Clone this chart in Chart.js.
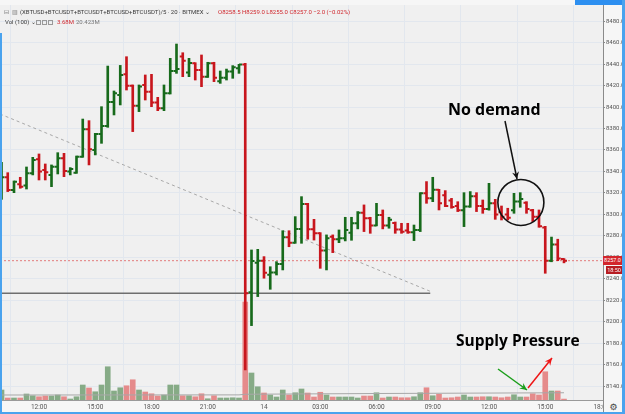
<!DOCTYPE html>
<html><head><meta charset="utf-8">
<script src="https://cdn.jsdelivr.net/npm/chart.js@4.4.1/dist/chart.umd.min.js"></script>
<style>
html,body{margin:0;padding:0;background:#f6f6f6;}
#wrap{position:relative;width:625px;height:414px;overflow:hidden;font-family:Roboto,'Liberation Sans',sans-serif;}
canvas{position:absolute;left:0;top:0;}
.t{position:absolute;white-space:nowrap;font-size:6px;line-height:8px;color:#3a3a3a;}
.r{color:#d0282e;}
.g{color:#777;}
.ann{position:absolute;white-space:nowrap;font-family:'Open Sans',sans-serif;font-weight:700;font-size:16px;line-height:18px;color:#000;}
.box{position:absolute;color:#fff;font-size:5.5px;text-align:center;overflow:hidden;}
.ic{display:inline-block;width:3px;height:3px;border:1px solid #999;margin-right:1px;vertical-align:middle;}
</style></head><body>
<div id="wrap">
<canvas id="c" width="625" height="414"></canvas>
<div class="t" style="left:4px;top:8px;color:#777">⊟</div>
<div class="t" style="left:12px;top:8px;color:#777">▥</div>
<div class="t" style="left:20px;top:8px">(XBTUSD+BTCUSDT+BTCUSDT+BTCUSD+BTCUSDT)/5 · 20 · BITMEX ⌄</div>
<div class="t r" style="left:218px;top:8px">O8258.5 H8259.0 L8255.0 C8257.0 −2.0 (−0.02%)</div>
<div class="t" style="left:5px;top:18px">Vol (100) ⌄</div>
<div class="t" style="left:36px;top:18px"><span class="ic"></span><span class="ic"></span><span class="ic"></span></div>
<div class="t r" style="left:57px;top:18px">3.68M</div>
<div class="t g" style="left:76px;top:18px">20.423M</div>
<div class="ann" style="left:448px;top:100px">No demand</div>
<div class="ann" style="left:456px;top:331px;font-size:15.5px">Supply Pressure</div>
<div class="box" style="left:603px;top:256px;width:19px;height:9px;line-height:9px;background:#d3262c">8257.0</div>
<div class="box" style="left:606px;top:266px;width:16px;height:8px;line-height:8px;background:#b71c22">18:50</div>
<div style="position:absolute;left:603px;top:401px;width:19px;height:13px;background:#f6f6f6;border-left:1px solid #8a8a8a;font-family:'DejaVu Sans';font-size:9px;line-height:13px;text-align:center;color:#444">⚙</div>
<div style="position:absolute;left:0;top:33px;width:2px;height:381px;background:#4aa3ee"></div>
<div style="position:absolute;left:622px;top:0;width:3px;height:414px;background:#4aa3ee"></div>
<div style="position:absolute;left:0;top:412px;width:625px;height:2px;background:#4aa3ee"></div>
<div style="position:absolute;left:575px;top:0;width:47px;height:5px;background:#2d8ff0"></div>
</div>
<script>
// ---- data ----
const tickIndex  = [6, 15, 24, 33, 42, 51, 60, 69, 78, 87, 96];
const tickLabels = ['12:00','15:00','18:00','21:00','14','03:00','06:00','09:00','12:00','15:00','18:00'];
const yTicks = [8140,8160,8180,8200,8220,8240,8260,8280,8300,8320,8340,8360,8380,8400,8420,8440,8460,8480];

const opens  = [8316.6,8334.6,8322.8,8328.1,8326.9,8338.3,8351.3,8341.4,8336.8,8344.5,
                8352.3,8339.9,8338.9,8353.8,8379.2,8360.0,8374.9,8382.3,8404.6,8411.2,
                8430.4,8419.8,8401.2,8420.5,8414.3,8404.3,8398.8,8412.7,8433.5,8447.0,
                8432.0,8440.6,8434.4,8428.2,8440.6,8424.0,8427.3,8433.0,8436.0,8439.5,
                8227.6,8255.0,8257.0,8244.0,8246.0,8254.0,8278.8,8273.8,8286.5,8309.8,
                8286.2,8282.5,8266.4,8279.4,8276.9,8278.0,8283.0,8291.8,8301.7,8296.5,
                8289.7,8299.6,8289.7,8292.0,8286.0,8285.0,8283.5,8285.5,8319.7,8315.0,
                8323.0,8318.0,8313.0,8308.0,8304.0,8307.5,8317.0,8308.0,8305.0,8310.5,
                8302.0,8300.0,8304.0,8312.0,8311.0,8304.0,8298.0,8288.0,8257.0,8272.0,
                8258.5];
const highs  = [8348.5,8338.9,8331.2,8334.6,8344.2,8353.2,8356.3,8347.0,8346.1,8357.5,
                8356.9,8343.6,8354.4,8388.8,8387.3,8375.5,8400.3,8438.1,8414.9,8438.7,
                8446.8,8420.5,8420.5,8429.8,8430.4,8409.0,8420.5,8445.3,8458.6,8450.5,
                8445.3,8441.2,8448.4,8441.6,8441.6,8433.5,8435.3,8438.5,8439.7,8440.6,
                8267.0,8267.6,8260.8,8251.4,8256.1,8284.9,8284.9,8298.0,8316.6,8310.4,
                8295.5,8283.1,8281.0,8281.0,8285.6,8297.4,8297.4,8302.7,8308.9,8297.4,
                8310.4,8304.2,8297.4,8293.0,8291.8,8291.8,8290.2,8320.3,8330.6,8334.6,
                8323.4,8322.2,8315.0,8311.9,8320.3,8321.3,8320.3,8313.5,8329.0,8314.1,
                8307.9,8305.8,8319.7,8320.3,8311.9,8304.8,8304.2,8289.0,8279.0,8277.0,
                8259.0];
const lows   = [8314.1,8321.3,8320.3,8324.4,8323.7,8336.8,8332.1,8332.1,8325.9,8337.7,
                8335.2,8336.8,8338.3,8353.2,8346.1,8355.4,8366.2,8381.1,8392.6,8401.9,
                8415.8,8377.1,8395.7,8406.5,8400.3,8396.6,8396.6,8412.1,8431.3,8428.2,
                8428.2,8425.1,8418.9,8427.5,8423.6,8422.0,8425.1,8426.7,8431.3,8155.4,
                8196.6,8223.6,8240.7,8230.4,8243.7,8248.4,8270.0,8273.2,8273.2,8277.0,
                8276.2,8249.9,8248.4,8264.5,8273.8,8275.4,8276.0,8286.6,8284.1,8282.5,
                8289.4,8286.6,8287.2,8282.5,8282.5,8282.5,8275.7,8284.1,8310.4,8311.9,
                8304.2,8307.3,8305.8,8302.7,8288.7,8306.7,8302.7,8301.1,8304.0,8295.5,
                8294.9,8294.9,8301.1,8306.7,8301.1,8293.4,8288.1,8245.3,8256.0,8257.0,
                8255.0];
const closes = [8334.6,8322.8,8330.5,8325.9,8338.3,8350.7,8339.9,8339.2,8344.5,8352.3,
                8340.5,8342.4,8353.8,8379.2,8360.6,8374.9,8382.3,8404.6,8412.7,8429.7,
                8419.8,8401.2,8419.0,8414.3,8404.3,8398.8,8412.7,8433.5,8435.4,8443.1,
                8441.0,8434.4,8428.2,8440.6,8427.3,8427.3,8433.0,8437.0,8439.5,8226.7,
                8256.8,8257.0,8245.9,8246.0,8254.0,8278.8,8273.8,8286.5,8309.8,8286.2,
                8282.5,8266.4,8277.9,8276.9,8278.0,8285.6,8291.8,8301.7,8296.5,8289.7,
                8299.6,8289.7,8295.0,8286.0,8284.0,8283.5,8285.5,8319.7,8315.0,8323.0,
                8310.4,8308.0,8307.0,8304.0,8307.5,8317.0,8308.0,8305.0,8310.5,8300.0,
                8298.0,8297.0,8312.0,8314.5,8305.0,8298.0,8289.0,8257.0,8272.0,8259.0,
                8257.0];
// volume in millions
const volumes = [40,8,8,8,24,17,13,16,16,20,
                 13,4,13,60,48,33,60,133,36,49,
                 57,81,40,32,25,16,20,60,60,17,
                 17,13,25,5,17,8,8,9,8,392,
                 108,53,28,20,12,40,20,29,44,28,
                 12,31,20,12,12,12,12,8,16,16,
                 29,8,12,12,9,9,13,29,49,17,
                 23,8,9,12,20,12,12,13,13,12,
                 9,12,21,12,12,25,20,113,36,36,
                 3.68];
const volMA = [{x:0,y:20},{x:38,y:20.5},{x:39,y:23},{x:60,y:26},{x:90,y:29}];
// drawing lines on the chart (index, price)
const trendLine   = [{x:-0.24,y:8393.5},{x:68.6,y:8228.5}];
const supportLine = [{x:-0.24,y:8226.7},{x:68.6,y:8226.7}];
const lastPrice   = [{x:-0.24,y:8257.0},{x:96.24,y:8257.0}];

// ---- chart ----
const N = opens.length;
const up = closes.map((c,i)=>c>=opens[i]);
const GREEN='#176a1b', RED='#c8161d', VGREEN='#86ab86', VRED='#e58b8b';

const bgPlugin = {id:'bg', beforeDraw(chart){
  const {ctx, chartArea:a} = chart;
  ctx.save(); ctx.fillStyle='#f0f0f0'; ctx.fillRect(a.left,a.top,a.right-a.left,a.bottom-a.top); ctx.restore();
}};
const ohlcTicks = {id:'ohlcTicks', afterDatasetsDraw(chart){
  const {ctx, scales:{x,y}} = chart;
  ctx.save(); ctx.lineWidth=2; ctx.lineCap='butt';
  for(let i=0;i<N;i++){
    const px=x.getPixelForValue(i);
    const yo=y.getPixelForValue(opens[i]), yc=y.getPixelForValue(closes[i]);
    ctx.strokeStyle=up[i]?GREEN:RED;
    ctx.beginPath();
    ctx.moveTo(px-3,yo); ctx.lineTo(px,yo);
    ctx.moveTo(px,yc); ctx.lineTo(px+3,yc);
    ctx.stroke();
  }
  ctx.restore();
}};
function arrow(ctx,x1,y1,x2,y2,color,w,head){
  const a=Math.atan2(y2-y1,x2-x1);
  ctx.strokeStyle=color; ctx.fillStyle=color; ctx.lineWidth=w;
  ctx.beginPath(); ctx.moveTo(x1,y1); ctx.lineTo(x2,y2); ctx.stroke();
  ctx.beginPath(); ctx.moveTo(x2,y2);
  ctx.lineTo(x2-head*Math.cos(a-0.45),y2-head*Math.sin(a-0.45));
  ctx.lineTo(x2-head*0.6*Math.cos(a),y2-head*0.6*Math.sin(a));
  ctx.lineTo(x2-head*Math.cos(a+0.45),y2-head*Math.sin(a+0.45));
  ctx.closePath(); ctx.fill();
}
const annot = {id:'annot', afterDraw(chart){
  const {ctx, scales:{x,y}} = chart;
  ctx.save();
  const cx=x.getPixelForValue(83.1), cy=y.getPixelForValue(8311.2);
  ctx.strokeStyle='#111'; ctx.lineWidth=1.6;
  ctx.beginPath(); ctx.arc(cx,cy,23,0,Math.PI*2); ctx.stroke();
  arrow(ctx,505,121,517,179,'#111',1.5,8);
  arrow(ctx,498,369,527,390,'#1a9e1a',1.5,8);
  arrow(ctx,528,388,552,358,'#ee1515',1.5,8);
  ctx.restore();
}};

new Chart(document.getElementById('c'), {
  type:'bar',
  data:{datasets:[
    {type:'bar', label:'Volume', data:volumes.map((v,i)=>({x:i,y:v})), yAxisID:'yv',
     backgroundColor:up.map(u=>u?VGREEN:VRED), barThickness:5, grouped:false, order:6},
    {type:'line', label:'Vol MA', data:volMA, yAxisID:'yv', borderColor:'#a8a8a8', borderWidth:1, pointRadius:0, order:5},
    {type:'line', label:'Trend', data:trendLine, yAxisID:'y', borderColor:'#a8a8a8', borderDash:[3,3], borderWidth:1, pointRadius:0, order:4},
    {type:'line', label:'Support', data:supportLine, yAxisID:'y', borderColor:'#6e6e6e', borderWidth:1.5, pointRadius:0, order:4},
    {type:'line', label:'Last', data:lastPrice, yAxisID:'y', borderColor:'#e27a7a', borderDash:[2,2], borderWidth:1, pointRadius:0, order:3},
    {type:'bar', label:'OHLC', data:lows.map((l,i)=>({x:i,y:[l,highs[i]]})), yAxisID:'y',
     backgroundColor:up.map(u=>u?GREEN:RED), barThickness:2, grouped:false, order:1}
  ]},
  options:{
    responsive:false, animation:false, devicePixelRatio:1,
    layout:{padding:{left:0,top:5,right:0,bottom:0}},
    plugins:{legend:{display:false}, tooltip:{enabled:false}},
    scales:{
      x:{type:'linear', min:-0.24, max:96.24, offset:false,
         afterBuildTicks:s=>{s.ticks=tickIndex.map(v=>({value:v}));},
         afterFit:s=>{s.height=14;},
         ticks:{autoSkip:false, maxRotation:0, padding:3, color:'#555',
                font:{size:6.5, family:'Roboto'},
                callback:(v)=>tickLabels[tickIndex.indexOf(v)]},
         grid:{color:'#e2e7ee', drawTicks:false},
         border:{color:'#9a9a9a'}},
      y:{type:'linear', position:'right', min:8127.4, max:8494.9,
         afterBuildTicks:s=>{s.ticks=yTicks.map(v=>({value:v}));},
         afterFit:s=>{s.width=22;},
         ticks:{padding:1, color:'#555', font:{size:6, family:'Roboto'},
                callback:(v)=>Number(v).toFixed(1)},
         grid:{color:'#e2e7ee', tickLength:2, tickColor:'#888'},
         border:{color:'#8a8a8a'}},
      yv:{display:false, min:0, max:1580}
    }
  },
  plugins:[bgPlugin, ohlcTicks, annot]
});
</script>
</body></html>
